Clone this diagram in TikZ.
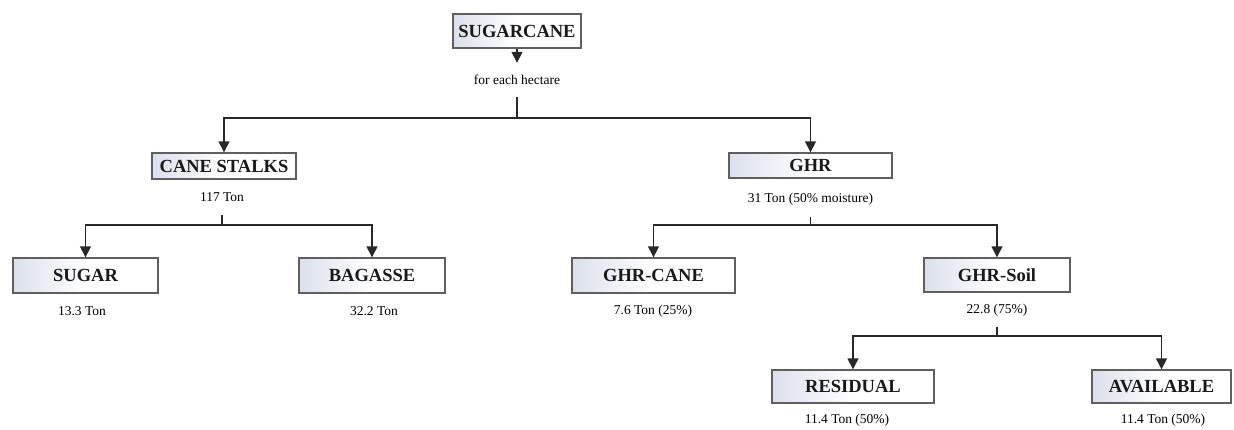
\documentclass[tikz,border=0pt]{standalone}
\usepackage{fontspec}
\setmainfont{Liberation Serif}
\usetikzlibrary{arrows.meta}
\definecolor{boxshade}{RGB}{220,224,236}
\definecolor{boxline}{RGB}{95,95,95}
\definecolor{connline}{RGB}{40,40,40}
\begin{document}
\begin{tikzpicture}[x=1pt,y=-1pt,
  box/.style={draw=boxline, line width=1.4pt, left color=boxshade, right color=white, middle color=white,
              inner sep=0pt, font=\fontsize{18.5}{20}\selectfont\bfseries, text=black!90},
  lbl/.style={inner sep=0pt, font=\fontsize{13.5}{15}\selectfont},
  conn/.style={draw=connline, line width=1.4pt},
  arr/.style={conn, -{Triangle[width=11pt,length=11pt]}}]
\useasboundingbox (0,0) rectangle (1234,429);

% boxes
\node[box, minimum width=128pt, minimum height=34pt] (sugarcane) at (517,31) {SUGARCANE};
\node[box, minimum width=144pt, minimum height=26pt] (cane) at (224,166) {CANE STALKS};
\node[box, minimum width=163pt, minimum height=25pt] (ghr) at (810.5,165.5) {GHR};
\node[box, minimum width=145pt, minimum height=35pt] (sugar) at (85.5,275.5) {SUGAR};
\node[box, minimum width=146pt, minimum height=35pt] (bagasse) at (372,275.5) {BAGASSE};
\node[box, minimum width=163pt, minimum height=35pt] (ghrcane) at (653.5,275.5) {GHR-CANE};
\node[box, minimum width=146pt, minimum height=34pt] (ghrsoil) at (997,275) {GHR-Soil};
\node[box, minimum width=162pt, minimum height=33pt] (residual) at (853,386.5) {RESIDUAL};
\node[box, minimum width=139pt, minimum height=33pt] (available) at (1161.5,386.5) {AVAILABLE};

% labels
\node[lbl, minimum height=34pt] (hect) at (517,80) {for each hectare};
\node[lbl, minimum height=36pt] (l117) at (222,197) {117 Ton};
\node[lbl, minimum height=36pt] (l31) at (810.5,199) {31 Ton (50\% moisture)};
\node[lbl] (l133) at (82,311) {13.3 Ton};
\node[lbl] (l322) at (374,311) {32.2 Ton};
\node[lbl] (l76) at (653,311) {7.6 Ton (25\%)};
\node[lbl, minimum height=34pt] (l228) at (997,310) {22.8 (75\%)};
\node[lbl] (l114a) at (847,420) {11.4 Ton (50\%)};
\node[lbl] (l114b) at (1163,420) {11.4 Ton (50\%)};

% junction points
\coordinate (j1) at (517,118);
\coordinate (j2) at (222,225);
\coordinate (j3) at (810.5,225);
\coordinate (j4) at (997,336);

% connectors
\draw[arr] (sugarcane.south) -- (hect.north);
\draw[conn] (hect.south) -- (j1);
\draw[arr] (j1) -| (cane.north);
\draw[arr] (j1) -| (ghr.north);

\draw[conn] (l117.south) -- (j2);
\draw[arr] (j2) -| (sugar.north);
\draw[arr] (j2) -| (bagasse.north);

\draw[conn] (l31.south) -- (j3);
\draw[arr] (j3) -| (ghrcane.north);
\draw[arr] (j3) -| (ghrsoil.north);

\draw[conn] (l228.south) -- (j4);
\draw[arr] (j4) -| (residual.north);
\draw[arr] (j4) -| (available.north);
\end{tikzpicture}
\end{document}
